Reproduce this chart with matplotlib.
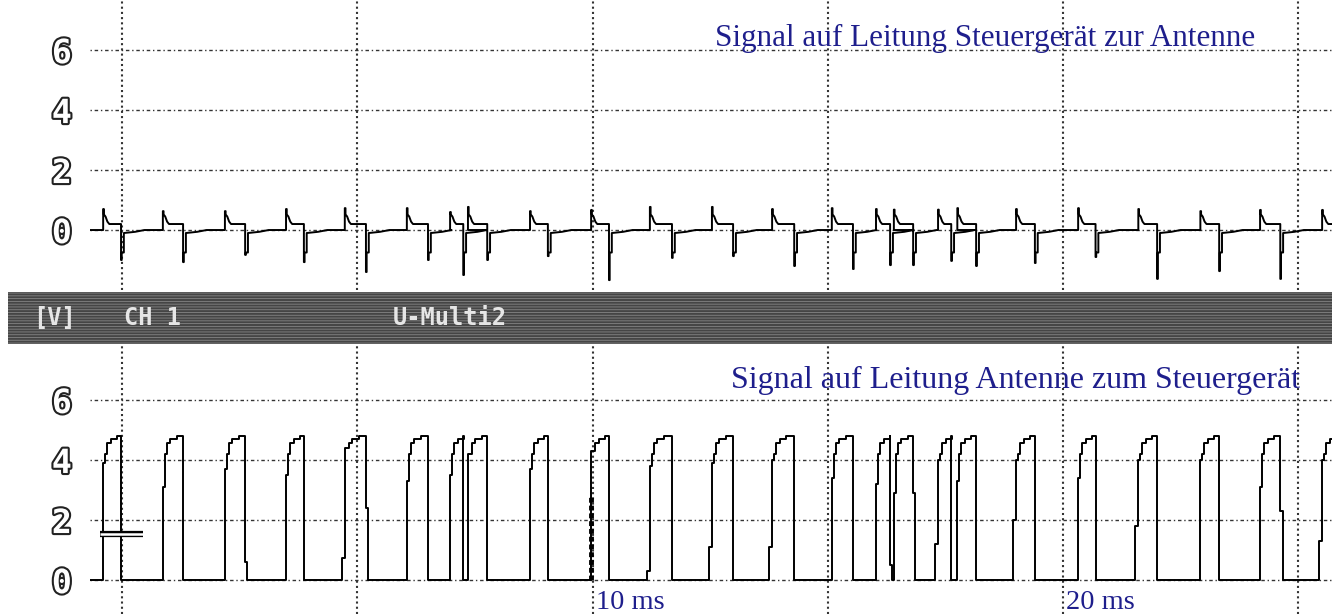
import matplotlib
matplotlib.use("Agg")
import matplotlib.pyplot as plt
import matplotlib.patheffects as pe
from matplotlib.patches import Rectangle

# Zeitachse in ms, Spannung in V
# Flanken der Impulse (Antenne -> Steuergerät), gelesen aus dem Bild
rise = [-0.41, 0.86, 2.18, 3.48, 4.73, 6.05, 6.97, 7.35, 8.67, 9.97, 11.22, 12.54,
        13.82, 15.09, 16.03, 16.41, 17.35, 17.76, 19.01, 20.33, 21.61, 22.93, 24.20, 25.52]
fall = [-0.03, 1.29, 2.61, 3.86, 5.18, 6.50, 7.25, 7.76, 9.05, 10.35, 11.69, 12.99,
        14.29, 15.54, 16.33, 16.82, 17.63, 18.16, 19.41, 20.70, 22.01, 23.33, 24.63, 26.2]
first_level = [3.9, 3.1, 3.7, 3.5, 4.4, 3.3, 3.5, 4.2, 3.7, 4.3, 3.8, 3.9,
               4.0, 3.4, 3.2, 2.9, 4.0, 3.3, 4.0, 3.4, 4.0, 4.0, 3.1, 4.0]
pedestal = [0, 0, 0, 0, 0.75, 0, 0, 0, 0, 0, 0.3, 1.1,
            1.1, 0, 0, 0, 1.2, 0, 2.0, 0, 1.8, 0, 0, 1.3]
fall_step = [0, 0, 0.6, 0, 2.4, 0, 0, 0, 0, 0, 0, 0,
             0, 0, 0.5, 2.9, 0, 0, 0, 0, 0, 0, 2.3, 0]
stair_dt = [0.04, 0.08, 0.16, 0.30]
stair_v = [4.2, 4.55, 4.7, 4.8]

# Steuergerät -> Antenne: Spitzen an den Flanken
spike_hi = [0.7, 0.63, 0.63, 0.7, 0.73, 0.73, 0.6, 0.77, 0.63, 0.67, 0.77, 0.77,
            0.7, 0.73, 0.7, 0.68, 0.68, 0.73, 0.7, 0.73, 0.7, 0.63, 0.67, 0.67]
spike_lo = [-1.0, -1.07, -0.83, -1.07, -1.4, -1.0, -1.5, -1.0, -0.87, -1.67, -0.93, -0.87,
            -1.2, -1.3, -1.17, -1.17, -1.03, -1.2, -1.1, -0.9, -1.63, -1.37, -1.63, -1.2]
step_level = 0.2

trigger_t, trigger_v = 9.97, 2.8
cursor_t, cursor_v = [-0.48, 0.44], 1.55

yticks = [0, 2, 4, 6]
vgrid = [0, 5, 10, 15, 20, 25]
x_min, x_max = -0.69, 25.73

plt.rcParams["hatch.linewidth"] = 0.6

W, H = 1332, 614
fig = plt.figure(figsize=(W / 100, H / 100), dpi=100)
fig.patch.set_facecolor("white")

ax1 = fig.add_axes([90 / W, 1 - 290 / H, (W - 90) / W, 290 / H])
ax2 = fig.add_axes([90 / W, 0, (W - 90) / W, (H - 345) / H])


def style_axis(ax, ylim):
    ax.set_xlim(x_min, x_max)
    ax.set_ylim(*ylim)
    for s in ax.spines.values():
        s.set_visible(False)
    ax.set_xticks([])
    ax.set_yticks(yticks)
    ax.set_yticklabels([str(v) for v in yticks])
    ax.tick_params(axis="y", length=0, pad=13)
    for lab in ax.get_yticklabels():
        lab.set_fontfamily("DejaVu Sans Mono")
        lab.set_fontweight("bold")
        lab.set_fontsize(24)
        lab.set_color("white")
        lab.set_path_effects([pe.withStroke(linewidth=3, foreground="#222222")])
    for v in yticks:
        ax.axhline(v, color="#333333", lw=1.0, ls=(0, (1, 2, 2.5, 2)), zorder=1)
    for t in vgrid:
        ax.axvline(t, color="#333333", lw=1.5, ls=(0, (1, 1.5)), zorder=1)


style_axis(ax1, (-2.0, 7.67))
style_axis(ax2, (-1.13, 7.83))

# Ausgangssignal Antenne -> Steuergerät (unten)
tb, vb = [x_min - 0.5], [0]
for i in range(len(rise)):
    tr, tf = rise[i], fall[i]
    if pedestal[i] > 0:
        tb.append(tr - 0.07)
        vb.append(pedestal[i])
    tb.append(tr)
    vb.append(first_level[i])
    for dt, lv in zip(stair_dt, stair_v):
        tb.append(tr + dt)
        vb.append(max(lv, first_level[i]))
    if fall_step[i] > 0:
        tb.append(tf)
        vb.append(fall_step[i])
        tb.append(tf + 0.05)
        vb.append(0)
    else:
        tb.append(tf)
        vb.append(0)
tb.append(x_max + 1)
vb.append(0)
ax2.step(tb, vb, where="post", color="black", lw=1.4, zorder=3)

# Triggermarke und Cursor
ax2.plot([trigger_t, trigger_t], [0, trigger_v], color="black", lw=3.5,
         ls=(0, (1, 0.6)), zorder=3)
ax2.plot(cursor_t, [cursor_v, cursor_v], color="black", lw=4.5, zorder=4,
         solid_capstyle="butt")
ax2.plot(cursor_t, [cursor_v, cursor_v], color="white", lw=1.8, zorder=5,
         solid_capstyle="butt")

# Signal Steuergerät -> Antenne (oben)
tt, vt = [x_min - 0.5], [0]
for i in range(len(rise)):
    tr, tf = rise[i], fall[i]
    tt += [tr, tr, tr + 0.015, tr + 0.015, tr + 0.05, tr + 0.09, tr + 0.13, tf]
    vt += [0, spike_hi[i], spike_hi[i], 0.52, 0.45, 0.28, step_level, step_level]
    tt += [tf, tf + 0.015, tf + 0.015, tf + 0.06, tf + 0.06, tf + 0.3, tf + 0.5]
    vt += [spike_lo[i], spike_lo[i], -0.75, -0.75, -0.1, -0.06, 0]
tt.append(x_max + 1)
vt.append(0)
ax1.plot(tt, vt, color="black", lw=1.4, zorder=3)

# Beschriftungen
title_kw = dict(family="Liberation Serif", color="#1e1e8c", ha="left", va="baseline")
ax1.text(12.6, 6.15, "Signal auf Leitung Steuergerät zur Antenne", fontsize=22.4,
         **title_kw)
ax2.text(12.95, 6.4, "Signal auf Leitung Antenne zum Steuergerät", fontsize=23,
         **title_kw)
ax2.text(10.08, -0.95, "10 ms", fontsize=20.5, **title_kw)
ax2.text(20.08, -0.95, "20 ms", fontsize=20.5, **title_kw)

# Statusleiste des Oszilloskops
band = Rectangle((8 / W, 1 - 344 / H), (W - 8) / W, 52 / H, transform=fig.transFigure,
                 facecolor="#454545", edgecolor="#858585", hatch="------", lw=0)
fig.patches.append(band)
band_kw = dict(family="DejaVu Sans Mono", fontweight="bold", fontsize=17,
               color="#e6e6e6", va="center", ha="left", transform=fig.transFigure)
fig.text(33 / W, 1 - 318 / H, "[V]", **band_kw)
fig.text(124 / W, 1 - 318 / H, "CH 1", **band_kw)
fig.text(393 / W, 1 - 318 / H, "U-Multi2", **band_kw)

fig.savefig("out.png", dpi=100, facecolor="white")
